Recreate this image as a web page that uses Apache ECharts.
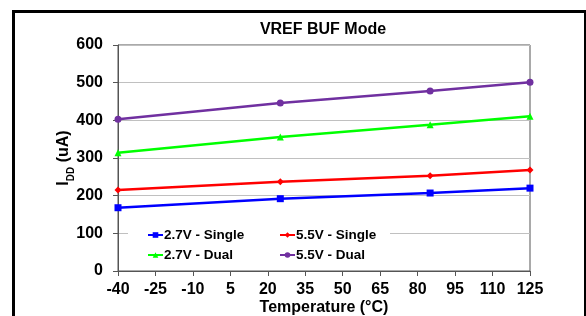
<!DOCTYPE html>
<html><head><meta charset="utf-8">
<script src="https://cdn.jsdelivr.net/npm/echarts@6/dist/echarts.min.js"></script>
<style>html,body{margin:0;padding:0;background:#fff;}#c{width:586px;height:316px;}</style>
</head><body><div id="c"></div>
<script>
var temps = [-40, 25, 85, 125];
var single27 = [168, 192, 207, 220];
var single55 = [215, 237, 253, 268];
var dual27 = [314, 356, 388, 411];
var dual55 = [403, 446, 478, 501];
var xTicks = [-40, -25, -10, 5, 20, 35, 50, 65, 80, 95, 110, 125];
var yTicks = [0, 100, 200, 300, 400, 500, 600];
var names = ['2.7V - Single', '5.5V - Single', '2.7V - Dual', '5.5V - Dual'];
var colors = ['#0000FF', '#FF0000', '#00FF00', '#7030A0'];
var symbols = ['rect', 'diamond', 'triangle', 'circle'];
var values = [single27, single55, dual27, dual55];

function pairs(v){ return temps.map(function(t,i){ return [t, v[i]]; }); }

var font = 'Liberation Sans, Arial, sans-serif';
var chart = echarts.init(document.getElementById('c'), null, {renderer:'canvas'});
var series = names.map(function(n,i){
  return {
    name: n, type: 'line', data: pairs(values[i]),
    symbol: symbols[i], symbolSize: 7, showSymbol: true,
    lineStyle: {color: colors[i], width: 2.5},
    itemStyle: {color: colors[i]},
    z: 3
  };
});
chart.setOption({
  animation: false,
  title: {
    text: 'VREF BUF Mode', left: 318, top: 17, textAlign: 'center',
    textStyle: {fontFamily: font, fontSize: 16, fontWeight: 'bold', color: '#000'}
  },
  grid: {left: 118, right: 56, top: 45, bottom: 45, show: true, borderColor: '#555', borderWidth: 1,
         containLabel: false, outerBoundsMode: 'none'},
  xAxis: {
    type: 'value', min: -40, max: 125, interval: 15,
    name: 'Temperature (°C)', nameLocation: 'middle', nameGap: 29, nameMoveOverlap: false,
    nameTextStyle: {fontFamily: font, fontSize: 16, fontWeight: 'bold', color: '#000'},
    axisLine: {onZero: false, lineStyle: {color: '#555', width: 1}},
    axisTick: {show: true, length: 5, lineStyle: {color: '#555'}},
    splitLine: {show: false},
    axisLabel: {fontFamily: font, fontSize: 16, fontWeight: 'bold', color: '#000', margin: 11,
      formatter: function(v){ return xTicks.indexOf(v) >= 0 ? String(v) : ''; }}
  },
  yAxis: {
    type: 'value', min: 0, max: 600, interval: 100,
    name: '{a|I}{b|DD}{a| (uA)}', nameLocation: 'middle', nameGap: 44, nameRotate: 90, nameMoveOverlap: false,
    nameTextStyle: {fontFamily: font, fontSize: 16, fontWeight: 'bold', color: '#000',
      rich: {
        a: {fontFamily: font, fontSize: 16, fontWeight: 'bold', color: '#000', lineHeight: 20},
        b: {fontFamily: font, fontSize: 10, fontWeight: 'bold', color: '#000', verticalAlign: 'bottom', padding: [0,0,-2,0]}
      }},
    axisLine: {show: true, onZero: false, lineStyle: {color: '#555', width: 1}},
    axisTick: {show: true, length: 5, inside: false, lineStyle: {color: '#555'}},
    splitLine: {show: true, lineStyle: {color: '#c0c0c0', width: 1}},
    axisLabel: {fontFamily: font, fontSize: 16, fontWeight: 'bold', color: '#000', margin: 15,
      formatter: function(v){ return yTicks.indexOf(v) >= 0 ? String(v) : ''; }}
  },
  graphic: [
    {type: 'rect', left: 11, top: 9, shape: {width: 572, height: 320}, style: {fill: 'none', stroke: '#000', lineWidth: 3}, z: 100, silent: true},
    {type: 'rect', left: 128, top: 221, shape: {width: 262, height: 44}, style: {fill: '#fff'}, z: 1, silent: true}
  ],
  legend: [
    {data: [names[0], names[2]], orient: 'vertical', left: 142, top: 223, itemGap: 6, itemWidth: 15, itemHeight: 7,
     textStyle: {fontFamily: font, fontSize: 13.5, fontWeight: 'bold', color: '#000', padding: [0,0,0,-4]}, z: 5},
    {data: [names[1], names[3]], orient: 'vertical', left: 274, top: 223, itemGap: 6, itemWidth: 15, itemHeight: 7,
     textStyle: {fontFamily: font, fontSize: 13.5, fontWeight: 'bold', color: '#000', padding: [0,0,0,-4]}, z: 5}
  ],
  series: series
});
</script></body></html>
